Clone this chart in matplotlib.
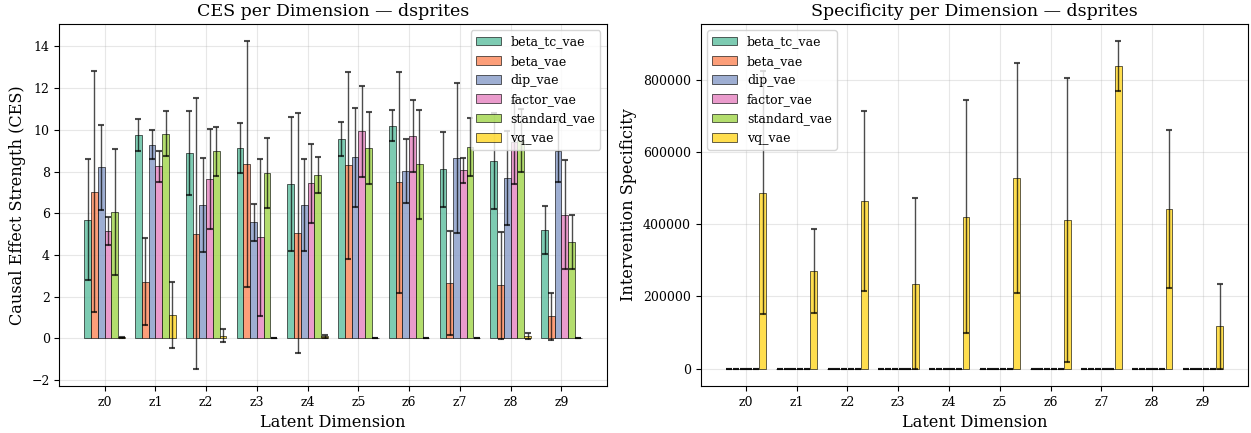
import numpy as np
import matplotlib.pyplot as plt

models = ["beta_tc_vae", "beta_vae", "dip_vae", "factor_vae", "standard_vae", "vq_vae"]
dims = ["z0", "z1", "z2", "z3", "z4", "z5", "z6", "z7", "z8", "z9"]

# CES mean / std per model (one value per latent dimension)
ces_mean = {
    "beta_tc_vae": [5.70, 9.75, 8.88, 9.12, 7.40, 9.57, 10.20, 8.10, 8.50, 5.21],
    "beta_vae": [7.04, 2.73, 5.02, 8.37, 5.07, 8.29, 7.48, 2.65, 2.54, 1.07],
    "dip_vae": [8.21, 9.28, 6.39, 5.56, 6.41, 8.68, 8.02, 8.66, 7.70, 8.98],
    "factor_vae": [5.14, 8.25, 7.64, 4.84, 7.43, 9.92, 9.70, 8.05, 9.40, 5.94],
    "standard_vae": [6.05, 9.81, 8.96, 7.94, 7.84, 9.12, 8.34, 9.17, 9.50, 4.62],
    "vq_vae": [0.05, 1.13, 0.14, 0.02, 0.10, 0.01, 0.01, 0.01, 0.12, 0.02],
}
ces_std = {
    "beta_tc_vae": [2.88, 0.77, 2.00, 1.20, 3.20, 0.82, 0.76, 1.81, 2.30, 1.16],
    "beta_vae": [5.76, 2.10, 6.50, 5.90, 5.75, 4.47, 5.30, 2.50, 2.55, 1.13],
    "dip_vae": [2.03, 0.70, 2.25, 0.87, 2.20, 2.36, 1.52, 3.60, 2.25, 1.50],
    "factor_vae": [0.67, 0.74, 2.40, 3.77, 1.88, 2.19, 1.72, 0.60, 2.00, 2.60],
    "standard_vae": [3.03, 1.08, 1.17, 1.67, 0.87, 1.74, 2.63, 1.40, 1.50, 1.30],
    "vq_vae": [0.02, 1.58, 0.30, 0.01, 0.08, 0.01, 0.01, 0.01, 0.15, 0.02],
}

# Intervention specificity: only vq_vae is non-zero
spec_mean = {m: [0] * 10 for m in models[:-1]}
spec_mean["vq_vae"] = [487000, 270000, 464000, 235000, 421000, 528000, 412000, 838000, 442000, 117000]
spec_std = {m: [0] * 10 for m in models[:-1]}
spec_std["vq_vae"] = [337000, 117000, 248000, 237000, 323000, 318000, 393000, 70000, 220000, 118000]

colors = plt.get_cmap("Set2").colors[:6]

plt.rcParams["font.family"] = "DejaVu Serif"

fig, (ax1, ax2) = plt.subplots(1, 2, figsize=(12.51, 4.33), dpi=100)
fig.subplots_adjust(left=0.0475, right=0.9976, bottom=0.109, top=0.944, wspace=0.172)

x = np.arange(len(dims))
width = 0.8 / len(models)
err_kw = dict(ecolor="black", alpha=0.7, capsize=2, lw=1, capthick=1.5)


def draw_panel(ax, means, stds, title, ylabel, legend_loc):
    for i, m in enumerate(models):
        off = (i - len(models) / 2 + 0.5) * width
        ax.bar(x + off, means[m], width, yerr=stds[m], label=m, color=colors[i],
               alpha=0.85, edgecolor="black", linewidth=0.5, error_kw=err_kw)
    ax.set_xticks(x)
    ax.set_xticklabels(dims, fontsize=9)
    ax.tick_params(axis="y", labelsize=9)
    ax.set_xlabel("Latent Dimension", fontsize=11.6)
    ax.set_ylabel(ylabel, fontsize=11.6)
    ax.set_title(title, fontsize=12.5)
    ax.grid(True, alpha=0.3)
    ax.set_axisbelow(True)
    ax.legend(loc=legend_loc, fontsize=9)


draw_panel(ax1, ces_mean, ces_std, "CES per Dimension \u2014 dsprites",
           "Causal Effect Strength (CES)", "upper right")
draw_panel(ax2, spec_mean, spec_std, "Specificity per Dimension \u2014 dsprites",
           "Intervention Specificity", "upper left")
ax2.ticklabel_format(axis="y", style="plain")

fig.savefig("out.png", dpi=100)
